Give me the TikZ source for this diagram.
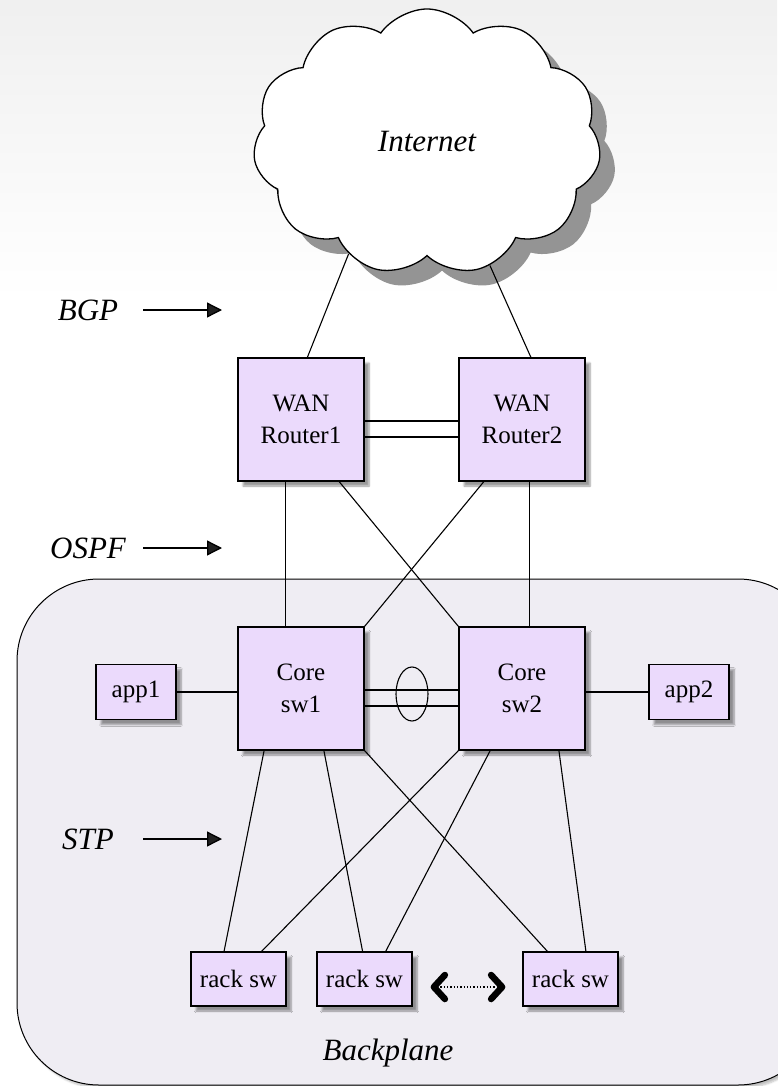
\documentclass[tikz,border=0pt]{standalone}
\usepackage{fontspec}
\setmainfont{Liberation Serif}
\usetikzlibrary{shapes.symbols,shapes.geometric,shadows,shadows.blur,arrows.meta,calc}
\definecolor{boxfill}{RGB}{235,218,252}
\definecolor{planefill}{RGB}{239,237,243}
\tikzset{
  netbox/.style={draw, line width=1.3pt, fill=boxfill, align=center, inner sep=0pt,
    blur shadow={shadow xshift=5pt, shadow yshift=-5pt, shadow blur steps=6},
    font=\fontsize{25}{32}\selectfont},
  bigbox/.style={netbox, minimum width=126pt, minimum height=123pt},
  rackbox/.style={netbox, minimum width=95pt, minimum height=54pt},
  appbox/.style={netbox, minimum width=80pt, minimum height=55pt},
  proto/.style={line width=1.3pt, -{Triangle[length=15pt,width=15pt]}},
  tag/.style={font=\fontsize{31}{36}\selectfont\itshape},
  link/.style={line width=1.1pt},
  barb/.tip={Straight Barb[length=11pt,width=24pt,line width=6.5pt,round]}
}
\begin{document}
\begin{tikzpicture}[x=1pt, y=-1pt]
  \useasboundingbox (0,0) rectangle (777,1086);
  \shade[top color=black!6, bottom color=white] (0,0) rectangle (777,300);

  % backplane
  \draw[fill=planefill, line width=1pt, rounded corners=82pt,
        blur shadow={shadow xshift=3pt, shadow yshift=-3pt, shadow blur steps=6, shadow opacity=25}]
        (17,579) rectangle (820,1085);
  \node[tag] (bp) at (388,1053) {Backplane};

  % internet
  \node[cloud, draw, fill=white, line width=1.3pt, cloud puffs=11, cloud puff arc=110,
        aspect=1.3, minimum width=348pt, minimum height=266pt, tag,
        general shadow={fill=black!42, shadow xshift=15pt, shadow yshift=-15pt}]
        (inet) at (427,142) {Internet};

  % routers and switches
  \node[bigbox] (r1) at (301,419.5) {WAN\\Router1};
  \node[bigbox] (r2) at (522,419.5) {WAN\\Router2};
  \node[bigbox] (c1) at (301,688.5) {Core\\sw1};
  \node[bigbox] (c2) at (522,688.5) {Core\\sw2};
  \node[appbox] (app1) at (136,692) {app1};
  \node[appbox] (app2) at (689,692) {app2};
  \node[rackbox] (k1) at (238.5,979) {rack sw};
  \node[rackbox] (k2) at (364.5,979) {rack sw};
  \node[rackbox] (k3) at (570.5,979) {rack sw};

  % protocol labels
  \node[tag] (bgp) at (88,310) {BGP};
  \node[tag] (ospf) at (88,548) {OSPF};
  \node[tag] (stp) at (88,839) {STP};
  \coordinate (bgpA) at (143,310);  \coordinate (bgpB) at (222,310);
  \coordinate (ospfA) at (143,548); \coordinate (ospfB) at (222,548);
  \coordinate (stpA) at (143,839);  \coordinate (stpB) at (222,839);
  \draw[proto] (bgpA) -- (bgpB);
  \draw[proto] (ospfA) -- (ospfB);
  \draw[proto] (stpA) -- (stpB);

  % links
  \draw[link] (inet.235) -- ($(r1.north west)!0.55!(r1.north east)$);
  \draw[link] (inet.297) -- ($(r2.north west)!0.57!(r2.north east)$);
  \draw[link] ([yshift=-1.5pt]r1.east) -- ([yshift=-1.5pt]r2.west);
  \draw[link] ([yshift=-17.5pt]r1.east) -- ([yshift=-17.5pt]r2.west);
  \draw[link] ($(r1.south west)!0.38!(r1.south east)$) -- ($(c1.north west)!0.38!(c1.north east)$);
  \draw[link] ($(r2.south west)!0.56!(r2.south east)$) -- ($(c2.north west)!0.56!(c2.north east)$);
  \draw[link] ($(r1.south west)!0.8!(r1.south east)$) -- (c2.north west);
  \draw[link] ($(r2.south west)!0.2!(r2.south east)$) -- (c1.north east);
  \draw[link] ([yshift=-1.5pt]c1.east) -- ([yshift=-1.5pt]c2.west);
  \draw[link] ([yshift=-17.5pt]c1.east) -- ([yshift=-17.5pt]c2.west);
  \node[ellipse, draw, line width=1.1pt, minimum width=32pt, minimum height=54pt, inner sep=0pt] (lag) at (412,694) {};
  \draw[link] (app1.east) -- (app1.east -| c1.west);
  \draw[link] (app2.west) -- (app2.west -| c2.east);
  \draw[link] ($(c1.south west)!0.21!(c1.south east)$) -- ($(k1.north west)!0.35!(k1.north east)$);
  \draw[link] ($(c1.south west)!0.68!(c1.south east)$) -- ($(k2.north west)!0.48!(k2.north east)$);
  \draw[link] (c1.south east) -- ($(k3.north west)!0.26!(k3.north east)$);
  \draw[link] (c2.south west) -- ($(k1.north west)!0.74!(k1.north east)$);
  \draw[link] ($(c2.south west)!0.25!(c2.south east)$) -- ($(k2.north west)!0.72!(k2.north east)$);
  \draw[link] ($(c2.south west)!0.79!(c2.south east)$) -- ($(k3.north west)!0.66!(k3.north east)$);
  \draw[dotted, line width=1.3pt, barb-barb]
        ([xshift=18pt,yshift=-8pt]k2.east) -- ([xshift=-17pt,yshift=-8pt]k3.west);
\end{tikzpicture}
\end{document}
